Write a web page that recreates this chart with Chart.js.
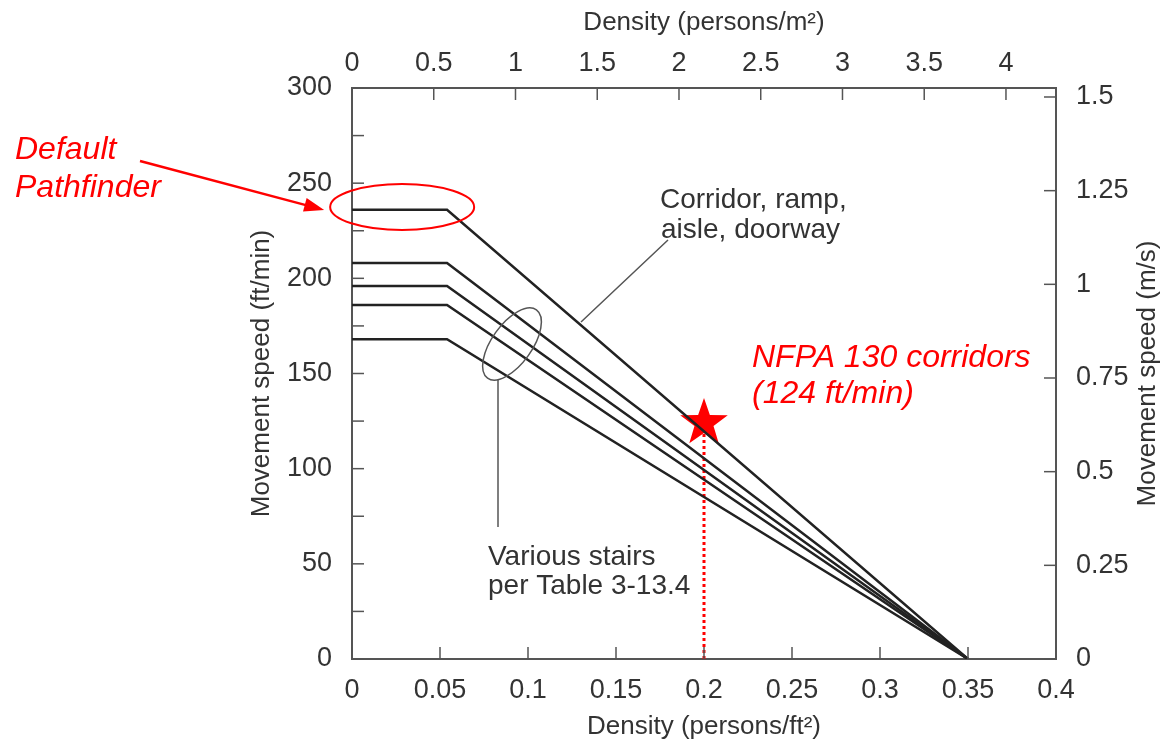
<!doctype html>
<html>
<head>
<meta charset="UTF-8">
<title>Movement speed vs density</title>
<style>
body{margin:0;background:#fff;}
#wrap{width:1163px;height:745px;}
</style>
</head>
<body>
<div id="wrap"><canvas id="speedChart"></canvas></div>
<script src="https://cdn.jsdelivr.net/npm/chart.js@4"></script>
<script>
// density break points (persons/ft2)
var densityPts = [0, 0.054, 0.35];
// movement speed (ft/min) at those densities
var corridorSpeed = [236, 236, 0];
var stairSpeed1 = [208, 208, 0];
var stairSpeed2 = [196, 196, 0];
var stairSpeed3 = [186, 186, 0];
var stairSpeed4 = [168, 168, 0];
// NFPA 130 corridor point
var nfpaDensity = [0.2, 0.2];
var nfpaSpeed = [0, 124];

// axes
var xTicks = [0, 0.05, 0.1, 0.15, 0.2, 0.25, 0.3, 0.35, 0.4];
var xLabels = ['0', '0.05', '0.1', '0.15', '0.2', '0.25', '0.3', '0.35', '0.4'];
var x2Ticks = [0, 0.5, 1, 1.5, 2, 2.5, 3, 3.5, 4];
var x2Labels = ['0', '0.5', '1', '1.5', '2', '2.5', '3', '3.5', '4'];
var x2Max = 4.306; // 0.4 persons/ft2 in persons/m2
var yTicks = [0, 25, 50, 75, 100, 125, 150, 175, 200, 225, 250, 275, 300];
var yLabels = ['0', '', '50', '', '100', '', '150', '', '200', '', '250', '', '300'];
var y2Ticks = [0, 0.25, 0.5, 0.75, 1, 1.25, 1.5];
var y2Labels = ['0', '0.25', '0.5', '0.75', '1', '1.25', '1.5'];
var y2Max = 1.524; // 300 ft/min in m/s

var RED = '#ff0000';
var INK = '#333';
var FONT = "'Liberation Sans', Arial, sans-serif";

function pts(xs, ys) {
  var out = [];
  for (var i = 0; i < xs.length; i++) out.push({x: xs[i], y: ys[i]});
  return out;
}

function makeStar(r, color) {
  var c = document.createElement('canvas');
  c.width = c.height = 2 * r + 2;
  var g = c.getContext('2d');
  g.fillStyle = color;
  g.beginPath();
  for (var i = 0; i < 10; i++) {
    var rad = (i % 2) ? r * 0.4 : r;
    var ang = -Math.PI / 2 + i * Math.PI / 5;
    g.lineTo(r + 1 + rad * Math.cos(ang), r + 1 + rad * Math.sin(ang));
  }
  g.closePath();
  g.fill();
  return c;
}

function lineSet(label, ys) {
  return {
    label: label,
    data: pts(densityPts, ys),
    borderColor: '#222',
    borderWidth: 2.5,
    pointRadius: 0,
    tension: 0,
    fill: false
  };
}

function setTicks(vals) {
  return function (s) { s.ticks = vals.map(function (v) { return {value: v}; }); };
}

// tick marks drawn inward, like the original figure
var innerTicks = {
  id: 'innerTicks',
  afterDatasetsDraw: function (chart) {
    var ctx = chart.ctx, a = chart.chartArea, L = 12;
    ctx.save();
    ctx.strokeStyle = '#555';
    ctx.lineWidth = 1.5;
    ['x', 'x2', 'y', 'y2'].forEach(function (id) {
      var s = chart.scales[id];
      s.ticks.forEach(function (t) {
        var p = s.getPixelForValue(t.value);
        ctx.beginPath();
        if (id === 'x') { ctx.moveTo(p, a.bottom); ctx.lineTo(p, a.bottom - L); }
        if (id === 'x2') { ctx.moveTo(p, a.top); ctx.lineTo(p, a.top + L); }
        if (id === 'y') { ctx.moveTo(a.left, p); ctx.lineTo(a.left + L, p); }
        if (id === 'y2') { ctx.moveTo(a.right, p); ctx.lineTo(a.right - L, p); }
        ctx.stroke();
      });
    });
    ctx.restore();
  }
};

// labels, leader lines and red call-outs
var notes = {
  id: 'notes',
  afterDraw: function (chart) {
    var ctx = chart.ctx, a = chart.chartArea;
    var sx = chart.scales.x, sy = chart.scales.y;
    ctx.save();

    // right axis title
    ctx.fillStyle = INK;
    ctx.font = '26px ' + FONT;
    ctx.textAlign = 'center';
    ctx.textBaseline = 'middle';
    ctx.translate(1148, (a.top + a.bottom) / 2);
    ctx.rotate(-Math.PI / 2);
    ctx.fillText('Movement speed (m/s)', 0, 0);
    ctx.setTransform(1, 0, 0, 1, 0, 0);

    // black annotations
    ctx.textAlign = 'left';
    ctx.textBaseline = 'alphabetic';
    ctx.font = '28px ' + FONT;
    ctx.fillText('Corridor, ramp,', 660, 208);
    ctx.fillText('aisle, doorway', 661, 238);
    ctx.fillText('Various stairs', 488, 565);
    ctx.fillText('per Table 3-13.4', 488, 594);

    ctx.strokeStyle = '#555';
    ctx.lineWidth = 1.5;
    ctx.beginPath();
    ctx.moveTo(668, 240); ctx.lineTo(581, 322);
    ctx.moveTo(498, 380); ctx.lineTo(498, 527);
    ctx.stroke();
    ctx.beginPath();
    ctx.ellipse(512, 344, 42, 20, -0.95, 0, Math.PI * 2);
    ctx.stroke();

    // red call-outs
    ctx.fillStyle = RED;
    ctx.strokeStyle = RED;
    ctx.font = 'italic 32px ' + FONT;
    ctx.fillText('Default', 15, 159);
    ctx.fillText('Pathfinder', 15, 197);
    ctx.fillText('NFPA 130 corridors', 752, 367);
    ctx.fillText('(124 ft/min)', 752, 403);

    var ex = sx.getPixelForValue(0.0285), ey = sy.getPixelForValue(237.5);
    ctx.lineWidth = 2;
    ctx.beginPath();
    ctx.ellipse(ex, ey, 72, 23, 0, 0, Math.PI * 2);
    ctx.stroke();

    // arrow
    var x0 = 140, y0 = 161, x1 = ex - 78, y1 = ey + 3;
    var ang = Math.atan2(y1 - y0, x1 - x0);
    ctx.lineWidth = 2.5;
    ctx.beginPath();
    ctx.moveTo(x0, y0);
    ctx.lineTo(x1 - 16 * Math.cos(ang), y1 - 16 * Math.sin(ang));
    ctx.stroke();
    ctx.beginPath();
    ctx.moveTo(x1, y1);
    ctx.lineTo(x1 - 20 * Math.cos(ang) + 7 * Math.sin(ang), y1 - 20 * Math.sin(ang) - 7 * Math.cos(ang));
    ctx.lineTo(x1 - 20 * Math.cos(ang) - 7 * Math.sin(ang), y1 - 20 * Math.sin(ang) + 7 * Math.cos(ang));
    ctx.closePath();
    ctx.fill();
    ctx.restore();
  }
};

var starImg = makeStar(25, RED);
var tickFont = {family: FONT, size: 27};
var titleFont = {family: FONT, size: 26};

var ctx = document.getElementById('speedChart');
var speedChart = new Chart(ctx, {
  type: 'line',
  data: {
    datasets: [
      lineSet('Corridor, ramp, aisle, doorway', corridorSpeed),
      lineSet('Stair 1', stairSpeed1),
      lineSet('Stair 2', stairSpeed2),
      lineSet('Stair 3', stairSpeed3),
      lineSet('Stair 4', stairSpeed4),
      {
        label: 'NFPA 130 line',
        data: pts(nfpaDensity, nfpaSpeed),
        borderColor: RED,
        borderWidth: 3,
        borderDash: [3, 3],
        pointRadius: 0
      },
      {
        label: 'NFPA 130 corridors',
        data: [{x: nfpaDensity[1], y: nfpaSpeed[1]}],
        showLine: false,
        pointStyle: starImg,
        pointRadius: 25
      }
    ]
  },
  options: {
    responsive: true,
    maintainAspectRatio: false,
    animation: false,
    layout: {padding: {left: 240, right: 0, top: 0, bottom: 0}},
    plugins: {legend: {display: false}, tooltip: {enabled: false}},
    scales: {
      x: {
        type: 'linear', position: 'bottom', min: 0, max: 0.4,
        afterBuildTicks: setTicks(xTicks),
        afterFit: function (s) { s.height = 86; },
        grid: {display: false},
        border: {display: true, color: '#555', width: 2},
        ticks: {color: INK, font: tickFont, padding: 7, maxRotation: 0, autoSkip: false,
          callback: function (v, i) { return xLabels[i]; }},
        title: {display: true, text: 'Density (persons/ft²)', color: INK, font: titleFont, padding: {top: 0, bottom: 3}}
      },
      x2: {
        type: 'linear', position: 'top', min: 0, max: x2Max,
        afterBuildTicks: setTicks(x2Ticks),
        afterFit: function (s) { s.height = 88; },
        grid: {display: false},
        border: {display: true, color: '#555', width: 2},
        ticks: {color: INK, font: tickFont, padding: 0, maxRotation: 0, autoSkip: false,
          callback: function (v, i) { return x2Labels[i]; }},
        title: {display: true, text: 'Density (persons/m²)', color: INK, font: titleFont, padding: {top: 7, bottom: 0}}
      },
      y: {
        type: 'linear', position: 'left', min: 0, max: 300,
        afterBuildTicks: setTicks(yTicks),
        afterFit: function (s) { s.width = 112; },
        grid: {display: false},
        border: {display: true, color: '#555', width: 2},
        ticks: {color: INK, font: tickFont, padding: 12, autoSkip: false,
          callback: function (v, i) { return yLabels[i]; }},
        title: {display: true, text: 'Movement speed (ft/min)', color: INK, font: titleFont, padding: {top: 6, bottom: 0}}
      },
      y2: {
        type: 'linear', position: 'right', min: 0, max: y2Max,
        afterBuildTicks: setTicks(y2Ticks),
        afterFit: function (s) { s.width = 107; },
        grid: {display: false},
        border: {display: true, color: '#555', width: 2},
        ticks: {color: INK, font: tickFont, padding: 12, autoSkip: false,
          callback: function (v, i) { return y2Labels[i]; }}
      }
    }
  },
  plugins: [innerTicks, notes]
});
</script>
</body>
</html>
